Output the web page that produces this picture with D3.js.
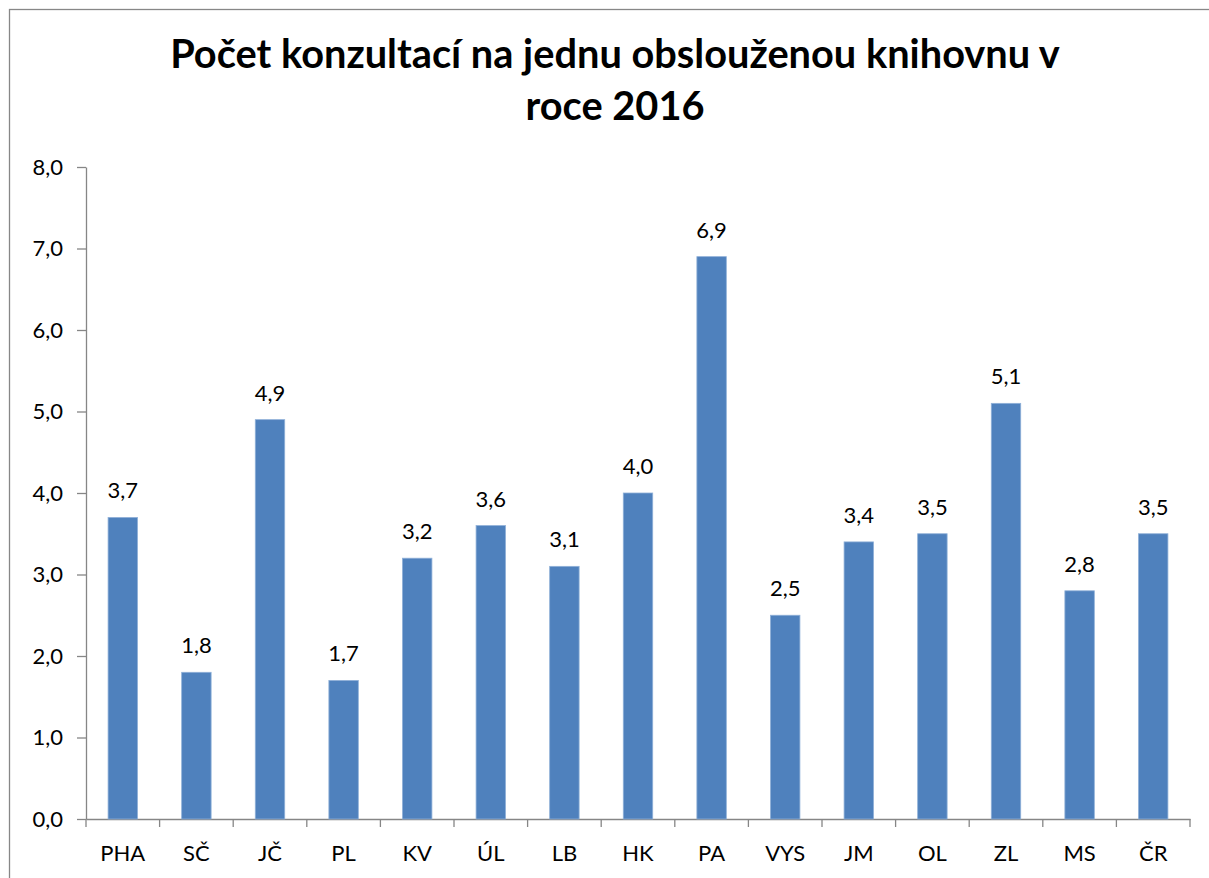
<!DOCTYPE html>
<html>
<head>
<meta charset="utf-8">
<script src="https://cdn.jsdelivr.net/npm/d3@7"></script>
<style>
  body { margin: 0; background: #fff; }
  svg { display: block; font-family: Lato, "Open Sans", sans-serif; }
</style>
</head>
<body>
<svg width="1209" height="878"></svg>
<script>
const categories = ["PHA", "SČ", "JČ", "PL", "KV", "ÚL", "LB", "HK", "PA", "VYS", "JM", "OL", "ZL", "MS", "ČR"];
const values = [3.7, 1.8, 4.9, 1.7, 3.2, 3.6, 3.1, 4.0, 6.9, 2.5, 3.4, 3.5, 5.1, 2.8, 3.5];
const yTicks = [0, 1, 2, 3, 4, 5, 6, 7, 8];
const titleLines = ["Počet konzultací na jednu obslouženou knihovnu v", "roce 2016"];

const svg = d3.select("svg");
const fmt = v => v.toFixed(1).replace(".", ",");

// ramecek grafu
svg.append("rect")
  .attr("x", 9.5).attr("y", 9.5)
  .attr("width", 1220).attr("height", 900)
  .attr("fill", "none").attr("stroke", "#878787").attr("stroke-width", 1.3);

const plotLeft = 86, plotRight = 1190, plotTop = 167, plotBottom = 819;

const x = d3.scaleBand().domain(categories).range([plotLeft, plotRight]).paddingInner(0.6).paddingOuter(0.3);
const y = d3.scaleLinear().domain([0, 8]).range([plotBottom, plotTop]);

// nadpis
const title = svg.append("g").attr("font-weight", "bold").attr("fill", "#000");
title.selectAll("text")
  .data(titleLines)
  .enter().append("text")
  .attr("x", 615)
  .attr("y", (d, i) => 68 + i * 52)
  .attr("text-anchor", "middle")
  .attr("font-size", 34)
  .text(d => d);
// dorovnat sirku prvniho radku na ~890px
const w0 = title.select("text").node().getComputedTextLength();
title.selectAll("text").attr("font-size", 34 * 890 / w0);

// osy
const yAxis = svg.append("g")
  .attr("transform", `translate(${plotLeft},0)`)
  .call(d3.axisLeft(y).tickValues(yTicks).tickSize(9).tickPadding(14).tickFormat(fmt).tickSizeOuter(0));

const xAxis = svg.append("g")
  .attr("transform", `translate(0,${plotBottom})`)
  .call(d3.axisBottom(x).tickSize(0).tickPadding(26).tickSizeOuter(0));

// carky mezi kategoriemi na ose x
xAxis.selectAll(".sep")
  .data(d3.range(categories.length + 1))
  .enter().append("line")
  .attr("class", "sep")
  .attr("x1", i => plotLeft + i * x.step()).attr("x2", i => plotLeft + i * x.step())
  .attr("y1", 0).attr("y2", 8);

[yAxis, xAxis].forEach(g => {
  g.selectAll("path, line").attr("stroke", "#868686").attr("stroke-width", 1.3);
  g.selectAll("text").attr("font-size", 22).attr("fill", "#000").attr("font-family", "Lato, 'Open Sans', sans-serif");
});

// sloupce
svg.append("g").selectAll("rect")
  .data(values)
  .enter().append("rect")
  .attr("x", (d, i) => x(categories[i]))
  .attr("y", d => y(d))
  .attr("width", x.bandwidth())
  .attr("height", d => plotBottom - y(d))
  .attr("fill", "#4F81BD")
  .attr("stroke", "#8fb0d8")
  .attr("stroke-width", 0.8);

// popisky hodnot
svg.append("g").selectAll("text")
  .data(values)
  .enter().append("text")
  .attr("x", (d, i) => x(categories[i]) + x.bandwidth() / 2)
  .attr("y", d => y(d) - 19)
  .attr("text-anchor", "middle")
  .attr("font-size", 22)
  .attr("fill", "#000")
  .text(fmt);
</script>
</body>
</html>
